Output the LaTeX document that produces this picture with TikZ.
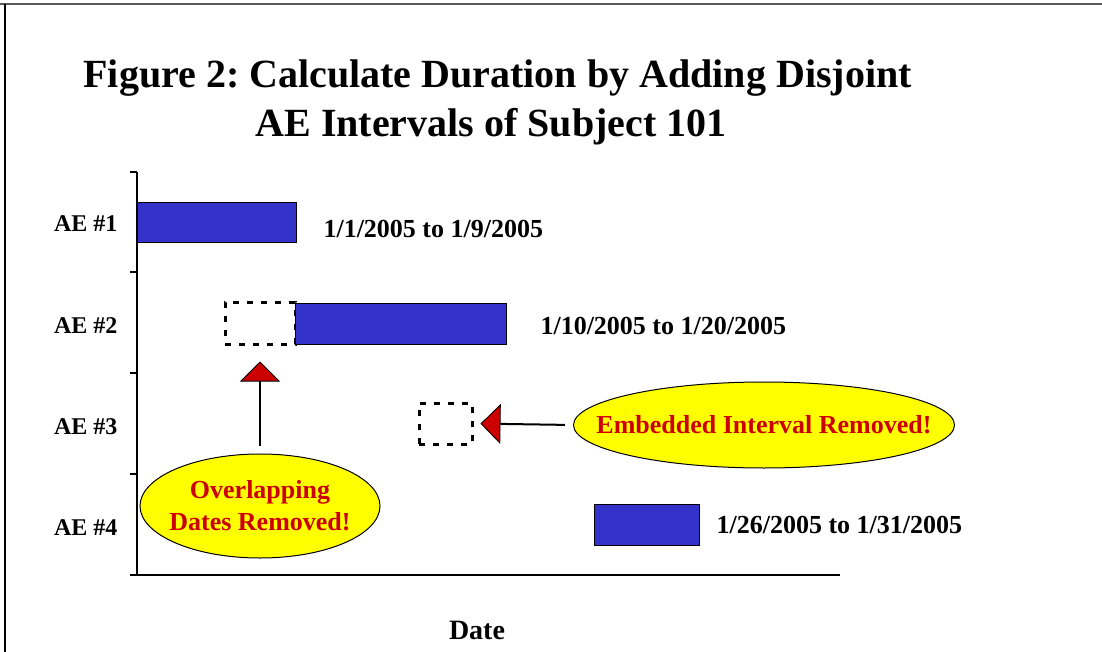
\documentclass[tikz,border=0pt]{standalone}
\usepackage{fontspec}
\setmainfont{Liberation Serif}
\frenchspacing
\usetikzlibrary{shapes.geometric,arrows.meta}
\definecolor{barblue}{HTML}{3333CC}
\definecolor{tipred}{HTML}{CC0000}
\definecolor{callyellow}{HTML}{FFFF00}
\tikzset{
  every node/.style={font=\bfseries},
  bar/.style={draw=black, line width=1pt, fill=barblue, inner sep=0pt},
  gone/.style={draw=black, line width=3pt, dash pattern=on 6pt off 8pt, inner sep=0pt},
  callout/.style={ellipse, draw=black, line width=1pt, fill=callyellow, inner sep=0pt},
  callouttext/.style={text=tipred, align=center, inner sep=0pt, font=\bfseries\fontsize{26}{32}\selectfont},
  pointer/.style={draw=black, line width=2pt, -{Triangle[length=20pt,width=40pt,fill=tipred,line width=0.8pt]}},
  lbl/.style={anchor=base east, font=\bfseries\fontsize{24}{28}\selectfont},
  daterange/.style={anchor=base west, font=\bfseries\fontsize{26}{30}\selectfont},
  axis/.style={draw=black, line width=1.5pt}
}
\begin{document}
\begin{tikzpicture}[x=1pt,y=-1pt]
\useasboundingbox (0,0) rectangle (1102,652);
% frame
\draw[line width=2.5pt, gray!70!black] (0,4) -- (1102,4);
\draw[line width=1.5pt] (5,4) -- (5,652);
% title
\node[anchor=base west, font=\bfseries\fontsize{40}{46}\selectfont] (t1) at (80,88) {Figure 2: Calculate Duration by Adding Disjoint};
\node[anchor=base west, font=\bfseries\fontsize{40}{46}\selectfont] (t2) at (252,137) {AE Intervals of Subject 101};
% axes
\draw[axis] (137,172) -- (137,575);
\draw[axis] (130,575) -- (840,575);
\foreach \yy in {172,272,373,474} \draw[axis] (130,\yy) -- (137,\yy);
% row labels
\node[lbl] (l1) at (121,232) {AE \#1};
\node[lbl] (l2) at (121,333) {AE \#2};
\node[lbl] (l3) at (121,434) {AE \#3};
\node[lbl] (l4) at (121,535) {AE \#4};
% bars
\node[bar, minimum width=159, minimum height=40] (b1) at (216.5,223) {};
\node[gone, minimum width=70, minimum height=42] (d2) at (260,323) {};
\node[bar, minimum width=211, minimum height=41] (b2) at (400.5,323.5) {};
\node[gone, minimum width=53, minimum height=41] (d3) at (445.5,423.5) {};
\node[bar, minimum width=105, minimum height=41] (b4) at (646.5,524.5) {};
% date ranges
\node[daterange] (r1) at (320,237) {1/1/2005 to 1/9/2005};
\node[daterange] (r2) at (537,334) {1/10/2005 to 1/20/2005};
\node[daterange] (r4) at (713,533) {1/26/2005 to 1/31/2005};
% callouts
\node[callout, minimum width=240, minimum height=104] (ov) at (260,506) {};
\node[callouttext] (ovt) at (ov.center) {Overlapping\\Dates Removed!};
\node[callout, minimum width=381, minimum height=86] (em) at (764,425) {};
\node[callouttext] (emt) at (em.center) {Embedded Interval Removed!};
\draw[pointer, shorten <=8pt, shorten >=16pt] (ov.north) -- (d2.south);
\draw[pointer, shorten <=8pt, shorten >=7pt] (em.west) -- (d3.east);
% x axis title
\node[anchor=base, font=\bfseries\fontsize{28}{32}\selectfont] (xt) at (477,639) {Date};
\end{tikzpicture}
\end{document}
